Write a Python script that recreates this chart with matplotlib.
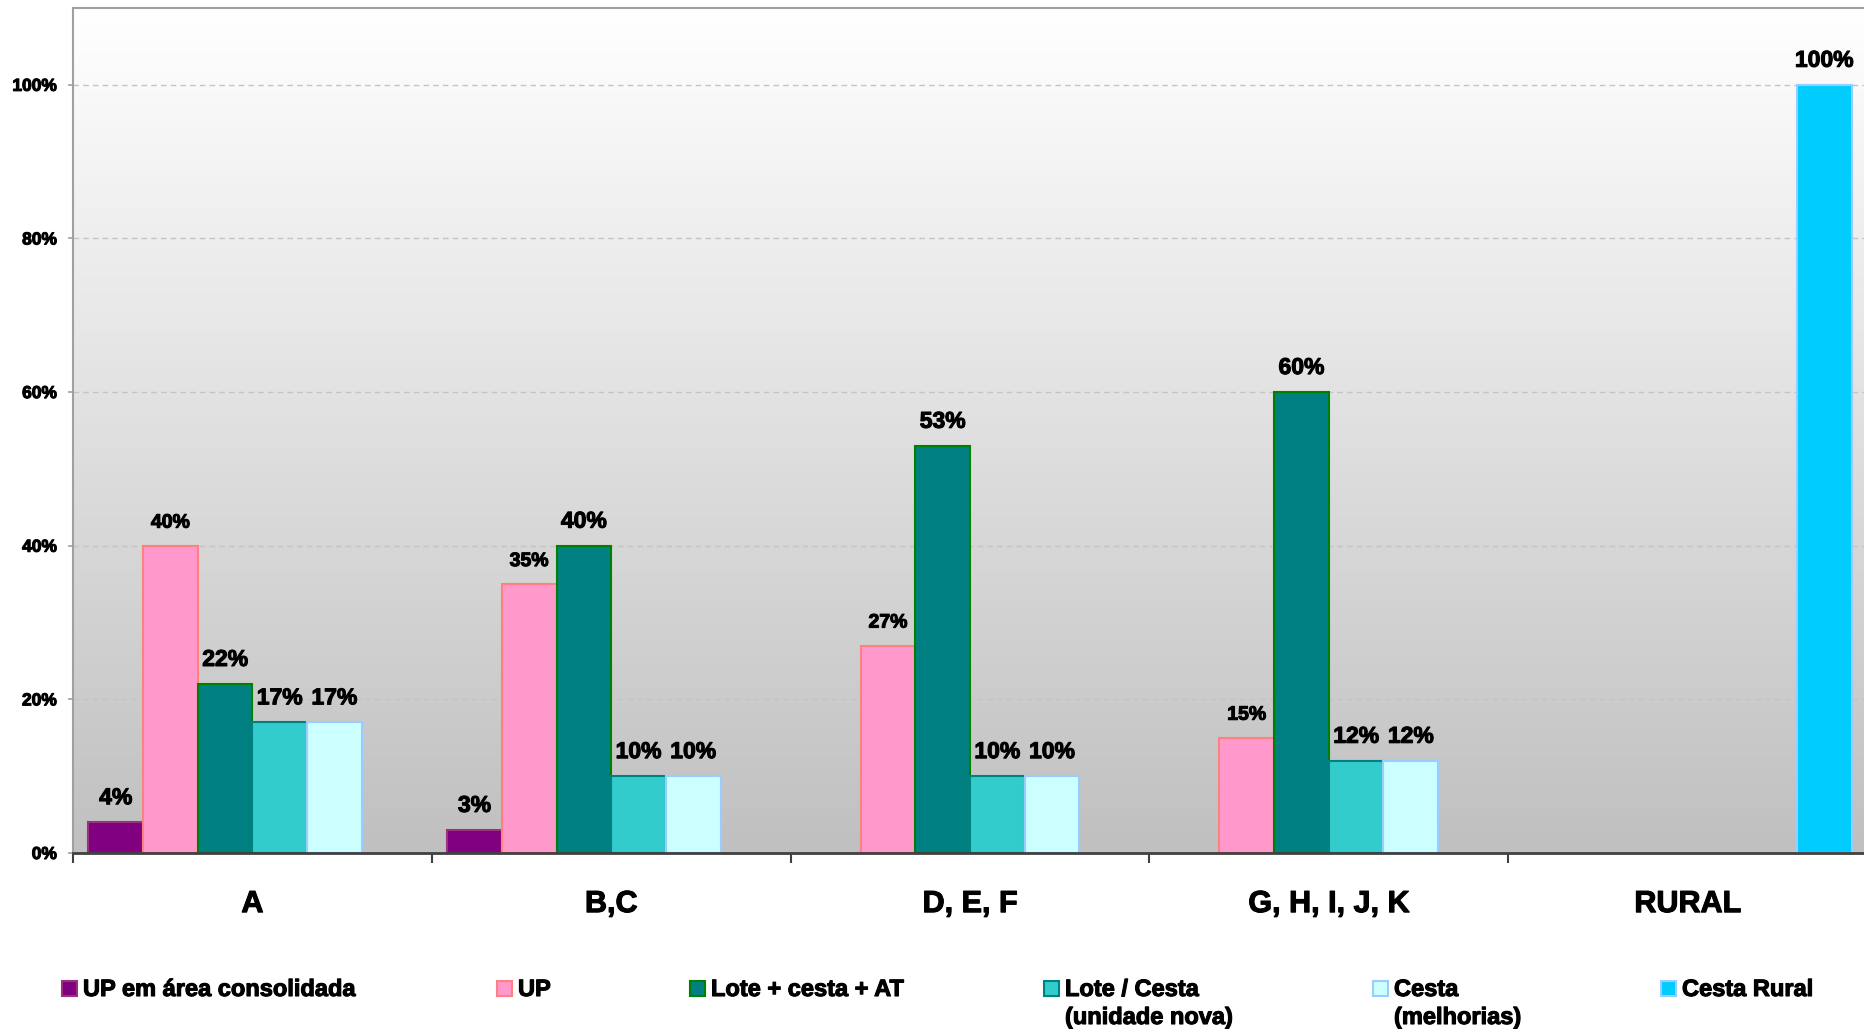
import numpy as np
import matplotlib
matplotlib.use("Agg")
import matplotlib.pyplot as plt
import matplotlib.patheffects as pe
from matplotlib.patches import Rectangle
from matplotlib.colors import LinearSegmentedColormap

plt.rcParams["font.family"] = ["Liberation Sans", "DejaVu Sans"]

# ---- data ----
categories = ["A", "B,C", "D, E, F", "G, H, I, J, K", "RURAL"]
series_names = [
    "UP em área consolidada",
    "UP",
    "Lote + cesta + AT",
    "Lote / Cesta\n(unidade nova)",
    "Cesta\n(melhorias)",
    "Cesta Rural",
]
up_consolidada = [4, 3, None, None, None]
up = [40, 35, 27, 15, None]
lote_cesta_at = [22, 40, 53, 60, None]
lote_cesta = [17, 10, 10, 12, None]
cesta = [17, 10, 10, 12, None]
cesta_rural = [None, None, None, None, 100]
series_values = [up_consolidada, up, lote_cesta_at, lote_cesta, cesta, cesta_rural]
y_ticks = [0, 20, 40, 60, 80, 100]

# ---- styles ----
face_colors = ["#800080", "#FF99CC", "#008080", "#33CCCC", "#CCFFFF", "#00CCFF"]
edge_colors = ["#993380", "#FF8080", "#008000", "#008080", "#99CCFF", "#99CCFF"]
label_sizes = [16.5, 14, 16.5, 16.5, 16.5, 16.5]
heavy = [pe.withStroke(linewidth=0.8, foreground="black")]

W, H = 1864, 1029
fig = plt.figure(figsize=(W / 100, H / 100), dpi=100)
fig.patch.set_facecolor("white")
ax = fig.add_axes([73 / W, 1 - 853 / H, (1867 - 73) / W, (853 - 8) / H])

# vertical background gradient (grey at the bottom, white at the top)
bg_cmap = LinearSegmentedColormap.from_list("bg", ["#c0c0c0", "#ffffff"])
grad = np.linspace(0, 1, 256).reshape(-1, 1)
ax.imshow(grad, extent=[0, 1, 0, 1], transform=ax.transAxes, aspect="auto",
          cmap=bg_cmap, origin="lower", zorder=-1, interpolation="bicubic")

n_series = len(series_values)
gap = 0.043
width = (1 - 2 * gap) / n_series

for j, vals in enumerate(series_values):
    for i, v in enumerate(vals):
        if v is None:
            continue
        x = i - 0.5 + gap + (j + 0.5) * width
        ax.bar(x, v, width=width, color=face_colors[j], edgecolor=edge_colors[j],
               linewidth=1.5, zorder=2)
        ax.annotate(f"{v}%", (x, v), xytext=(0, 13), textcoords="offset points",
                    ha="center", va="baseline", fontsize=label_sizes[j],
                    fontweight="bold", color="black", zorder=3,
                    path_effects=heavy)

ax.set_xlim(-0.5, len(categories) - 0.5)
ax.set_ylim(0, 110)

# y axis
ax.set_yticks(y_ticks)
ax.set_yticklabels([f"{t}%" for t in y_ticks], fontsize=12.5, fontweight="bold")
ax.tick_params(axis="y", length=3.6, width=1.2, color="#a0a0a0", pad=8)
ax.yaxis.grid(True, color="#c4c4c4", linestyle=(0, (4, 3)), linewidth=1.0)
ax.set_axisbelow(True)

# x axis: category labels centred, tick marks between groups
ax.set_xticks(range(len(categories)))
ax.set_xticklabels(categories, fontsize=22, fontweight="bold")
ax.tick_params(axis="x", which="major", length=0, pad=26)
ax.set_xticks(np.arange(-0.5, len(categories)), minor=True)
ax.tick_params(axis="x", which="minor", length=7, width=1.5, color="#404040",
               direction="out")
for lbl in ax.get_xticklabels() + ax.get_yticklabels():
    lbl.set_path_effects(heavy)

for side in ["left", "top"]:
    ax.spines[side].set_color("#a0a0a0")
    ax.spines[side].set_linewidth(1.5)
ax.spines["bottom"].set_color("#404040")
ax.spines["bottom"].set_linewidth(2)
ax.spines["right"].set_visible(False)

# legend row below the plot
legend_x = [62, 497, 690, 1044, 1373, 1661]
line_step = 28
for j, name in enumerate(series_names):
    x0 = legend_x[j]
    fig.add_artist(Rectangle((x0 / W, 1 - 996 / H), 15 / W, 15 / H,
                             transform=fig.transFigure, facecolor=face_colors[j],
                             edgecolor=edge_colors[j], linewidth=1.5))
    for k, line in enumerate(name.split("\n")):
        fig.text((x0 + 21) / W, 1 - (996 + k * line_step) / H, line,
                 ha="left", va="baseline", fontsize=17, fontweight="bold",
                 path_effects=heavy)

fig.savefig("out.png", dpi=100)
